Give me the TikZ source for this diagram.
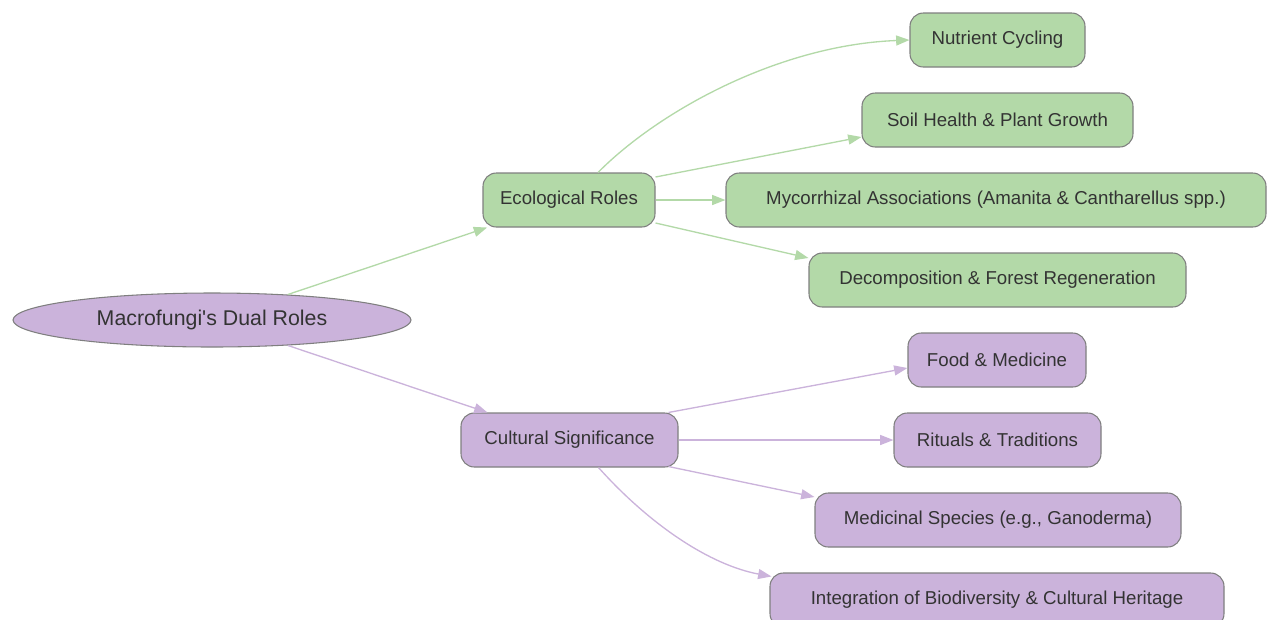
\documentclass[tikz,border=0pt]{standalone}
\usepackage{fontspec}
\setmainfont{Liberation Sans}
\usetikzlibrary{shapes.geometric,arrows.meta,calc}
\definecolor{eco}{HTML}{B3D9A8}
\definecolor{cul}{HTML}{CBB3DB}
\definecolor{bord}{HTML}{7F7F7F}
\definecolor{txt}{HTML}{333333}
\tikzset{
  box/.style={draw=bord, line width=0.8pt, rounded corners=10pt, minimum height=40.5pt, inner sep=0pt, font=\fontsize{14}{16}\selectfont, text=txt},
  ebox/.style={box, fill=eco},
  cbox/.style={box, fill=cul},
  earr/.style={draw=eco, line width=1pt, -{Triangle[length=10pt,width=7.5pt]}},
  carr/.style={draw=cul, line width=1pt, -{Triangle[length=10pt,width=7.5pt]}}
}
\begin{document}
\begin{tikzpicture}[x=0.75pt,y=-0.75pt]
\useasboundingbox (0,0) rectangle (1268,619);
\node[ellipse, draw=bord, line width=0.8pt, fill=cul, minimum width=298.5pt, minimum height=40.5pt, inner sep=0pt, font=\fontsize{16}{18}\selectfont, text=txt] (root) at (212,320) {Macrofungi\textquotesingle s Dual Roles};
\node[ebox, minimum width=129pt] (eco) at (569,200) {Ecological Roles};
\node[cbox, minimum width=162.75pt] (cult) at (569.5,440) {Cultural Significance};
\node[ebox, minimum width=131.25pt] (nut) at (997.5,40) {Nutrient Cycling};
\node[ebox, minimum width=203.25pt] (soil) at (997.5,120) {Soil Health \& Plant Growth};
\node[ebox, minimum width=405pt] (myc) at (996,200) {Mycorrhizal Associations (Amanita \& Cantharellus spp.)};
\node[ebox, minimum width=282.75pt] (dec) at (997.5,280) {Decomposition \& Forest Regeneration};
\node[cbox, minimum width=133.5pt] (food) at (997,360) {Food \& Medicine};
\node[cbox, minimum width=155.25pt] (rit) at (997.5,440) {Rituals \& Traditions};
\node[cbox, minimum width=274.5pt] (med) at (998,520) {Medicinal Species (e.g., Ganoderma)};
\node[cbox, minimum width=340.5pt] (int) at (997,600) {Integration of Biodiversity \& Cultural Heritage};
% edges
\draw[earr] (root) -- (eco);
\draw[carr] (root) -- (cult);
\draw[earr] ($(eco.north)+(29,0)$) .. controls (660,110) and (780,45) .. (nut.west);
\draw[earr] ($(eco.east)+(0,-23)$) -- ($(soil.west)+(0,17)$);
\draw[earr] (eco) -- (myc);
\draw[earr] ($(eco.east)+(0,23)$) -- ($(dec.west)+(0,-22)$);
\draw[carr] ($(cult.north east)+(-10,0)$) -- ($(food.west)+(0,8)$);
\draw[carr] (cult) -- (rit);
\draw[carr] ($(cult.south east)+(-10,-1)$) -- ($(med.west)+(0,-23)$);
\draw[carr] ($(cult.south)+(29,0)$) .. controls (650,525) and (710,565) .. ($(int.north west)+(2,4)$);
\end{tikzpicture}
\end{document}
